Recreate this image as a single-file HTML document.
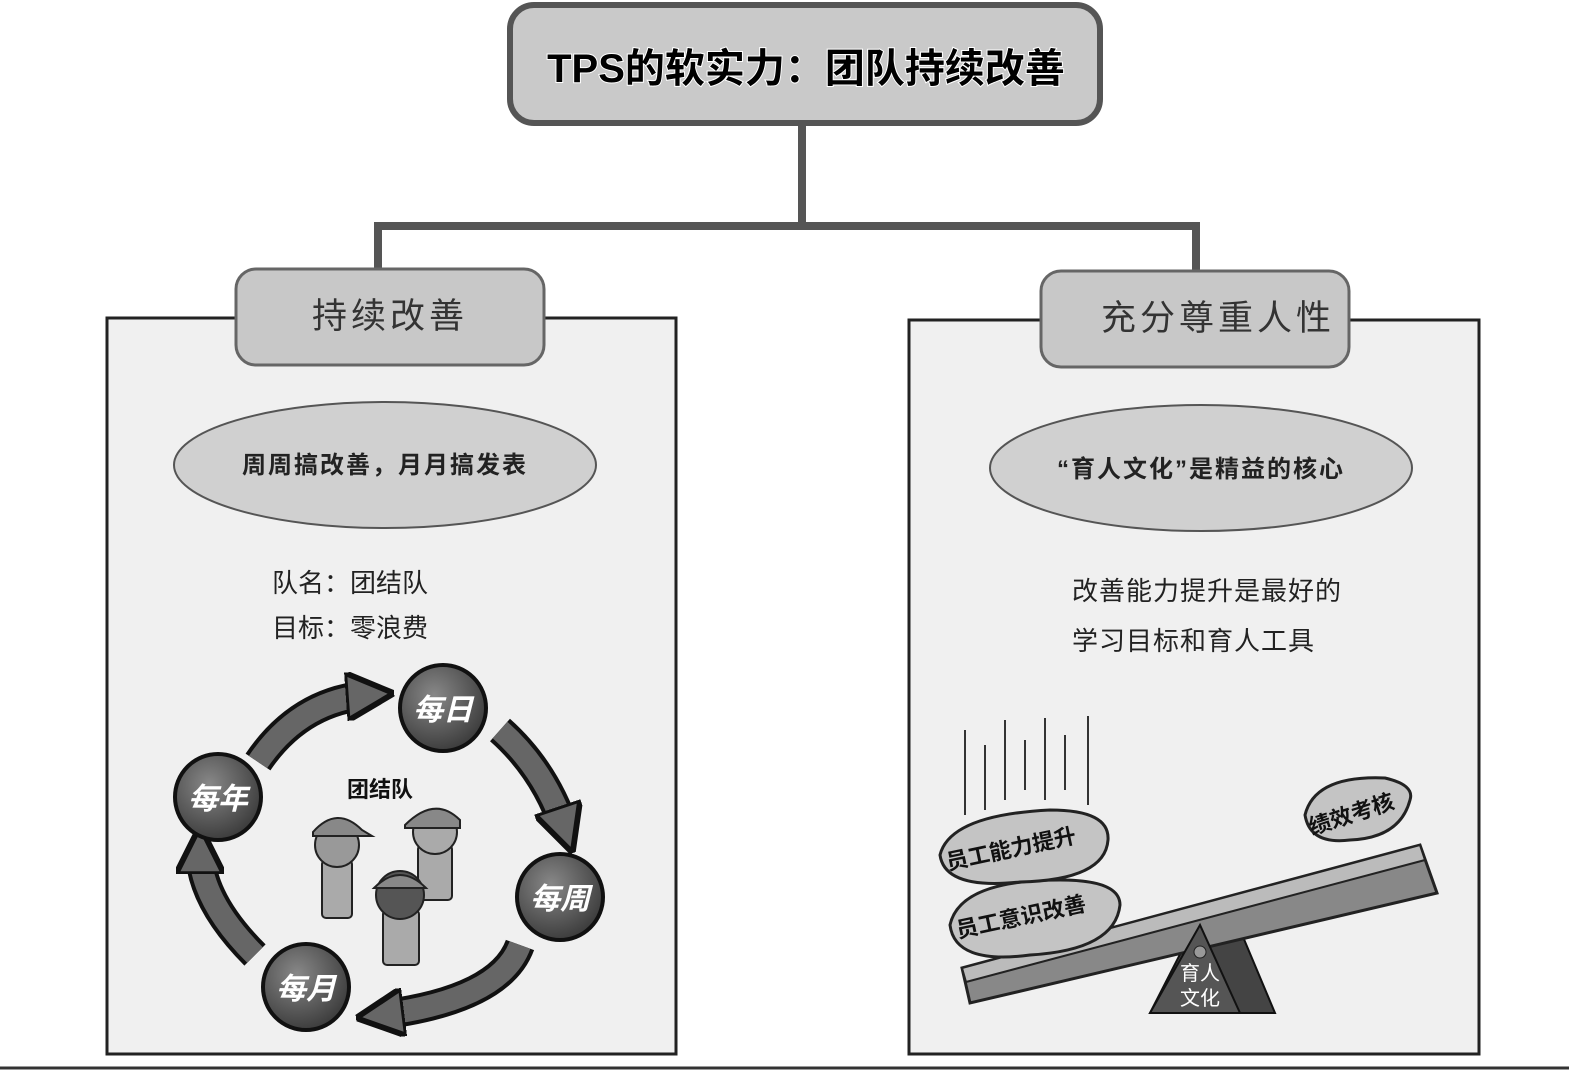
<!DOCTYPE html>
<html><head><meta charset="utf-8"><style>
html,body{margin:0;padding:0;background:#fff;}
svg{display:block;}
text{font-family:"Liberation Sans","Noto Sans CJK SC",sans-serif;}
</style></head><body>
<svg width="1569" height="1073" viewBox="0 0 1569 1073" xmlns="http://www.w3.org/2000/svg">
<defs>
<marker id="ah" viewBox="0 0 10 10" refX="5" refY="5" markerWidth="2.2" markerHeight="2.2" orient="auto">
<path d="M0,0 L10,5 L0,10 z" fill="#666" stroke="#111" stroke-width="1.2"/>
</marker>
<radialGradient id="ball" cx="40%" cy="35%" r="65%"><stop offset="0" stop-color="#888"/><stop offset="1" stop-color="#3e3e3e"/></radialGradient>
</defs>
<rect width="1569" height="1073" fill="#fff"/>
<g stroke="#555" stroke-width="8" fill="none">
<line x1="802" y1="122" x2="802" y2="226"/>
<polyline points="378,270 378,226 1196,226 1196,272"/>
</g>
<rect x="510" y="5" width="590" height="118" rx="24" fill="#c9c9c9" stroke="#555" stroke-width="6"/>
<text x="806" y="82" font-size="40" font-weight="bold" text-anchor="middle" fill="#000" stroke="#fff" stroke-width="2" paint-order="stroke">TPS的软实力：团队持续改善</text>
<rect x="107" y="318" width="569" height="736" fill="#f0f0f0" stroke="#222" stroke-width="3"/>
<rect x="909" y="320" width="570" height="734" fill="#f0f0f0" stroke="#222" stroke-width="3"/>
<line x1="0" y1="1068" x2="1569" y2="1068" stroke="#333" stroke-width="3"/>
<rect x="236" y="269" width="308" height="96" rx="20" fill="#c8c8c8" stroke="#666" stroke-width="3"/>
<text x="390" y="328" font-size="35" text-anchor="middle" fill="#333" letter-spacing="4">持续改善</text>
<rect x="1041" y="271" width="308" height="96" rx="20" fill="#c8c8c8" stroke="#666" stroke-width="3"/>
<text x="1218" y="330" font-size="35" text-anchor="middle" fill="#333" letter-spacing="4">充分尊重人性</text>
<ellipse cx="385" cy="465" rx="211" ry="63" fill="#d0d0d0" stroke="#555" stroke-width="2"/>
<text x="385" y="473" font-size="24" font-weight="600" text-anchor="middle" fill="#222" letter-spacing="2">周周搞改善，月月搞发表</text>
<ellipse cx="1201" cy="468" rx="211" ry="63" fill="#d0d0d0" stroke="#555" stroke-width="2"/>
<text x="1201" y="477" font-size="24" font-weight="600" text-anchor="middle" fill="#222" letter-spacing="2">“育人文化”是精益的核心</text>
<text x="272" y="592" font-size="26" fill="#222">队名：团结队</text>
<text x="272" y="637" font-size="26" fill="#222">目标：零浪费</text>
<text x="1072" y="600" font-size="26" fill="#222" letter-spacing="1">改善能力提升是最好的</text>
<text x="1072" y="650" font-size="26" fill="#222" letter-spacing="1">学习目标和育人工具</text>
<g fill="none" stroke-linecap="butt">
<g stroke="#111" stroke-width="30">
<path d="M258,762 Q300,700 370,695"/>
<path d="M500,730 Q545,770 565,830"/>
<path d="M520,945 Q500,1000 380,1015"/>
<path d="M255,955 Q200,900 200,850"/>
</g>
<g stroke="#666" stroke-width="22" marker-end="url(#ah)">
<path d="M258,762 Q300,700 370,695"/>
<path d="M500,730 Q545,770 565,830"/>
<path d="M520,945 Q500,1000 380,1015"/>
<path d="M255,955 Q200,900 200,850"/>
</g>
</g>
<g stroke="#111" stroke-width="4" fill="url(#ball)">
<circle cx="443" cy="708" r="43"/>
<circle cx="560" cy="897" r="43"/>
<circle cx="306" cy="987" r="43"/>
<circle cx="218" cy="797" r="43"/>
</g>
<g font-size="30" fill="#fff" text-anchor="middle" font-style="italic" font-weight="bold">
<text x="443" y="720">每日</text>
<text x="560" y="909">每周</text>
<text x="306" y="999">每月</text>
<text x="218" y="809">每年</text>
</g>
<text x="380" y="797" font-size="22" font-weight="bold" text-anchor="middle" fill="#111">团结队</text>
<g stroke="#222" stroke-width="2">
<rect x="322" y="860" width="30" height="58" rx="4" fill="#aaa"/>
<circle cx="337" cy="845" r="22" fill="#999"/>
<path d="M313,832 Q337,805 362,830 L372,836 L313,836 z" fill="#888"/>
<rect x="418" y="845" width="34" height="55" rx="4" fill="#aaa"/>
<circle cx="435" cy="832" r="22" fill="#aaa"/>
<path d="M405,825 Q435,795 460,820 L460,828 L405,828 z" fill="#888"/>
<rect x="383" y="910" width="36" height="55" rx="4" fill="#aaa"/>
<circle cx="400" cy="895" r="24" fill="#555"/>
<path d="M374,888 Q400,862 426,888 z" fill="#888"/>
</g>
<polygon points="1195,925 1150,1013 1275,1013 1238,925" fill="#444" stroke="#111" stroke-width="2"/>
<polygon points="962,968 1420,845 1437,893 970,1003" fill="#888" stroke="#222" stroke-width="3"/>
<polygon points="962,968 1420,845 1425,860 966,982" fill="#bbb" stroke="#222" stroke-width="2"/>
<polygon points="1200,925 1150,1013 1240,1013" fill="#555" stroke="#111" stroke-width="2"/>
<circle cx="1200" cy="952" r="6" fill="#999" stroke="#222"/>
<text x="1200" y="980" font-size="20" fill="#fff" text-anchor="middle">育人</text>
<text x="1200" y="1005" font-size="20" fill="#fff" text-anchor="middle">文化</text>
<g stroke="#222" stroke-width="3" fill="#c4c4c4">
<path d="M950,925 Q960,880 1060,880 Q1120,880 1120,905 Q1115,950 1030,955 Q955,965 950,925 z"/>
<path d="M940,855 Q950,815 1050,810 Q1110,810 1108,840 Q1105,880 1020,882 Q945,890 940,855 z"/>
<path d="M1305,815 Q1315,775 1385,778 Q1415,785 1410,800 Q1400,838 1350,840 Q1310,845 1305,815 z"/>
</g>
<g font-size="22" fill="#111" font-weight="bold">
<text x="958" y="938" transform="rotate(-12 958 938)">员工意识改善</text>
<text x="948" y="870" transform="rotate(-12 948 870)">员工能力提升</text>
<text x="1312" y="835" transform="rotate(-18 1312 835)">绩效考核</text>
</g>
<g stroke="#333" stroke-width="2">
<line x1="965" y1="730" x2="965" y2="815"/><line x1="985" y1="745" x2="985" y2="810"/>
<line x1="1005" y1="720" x2="1005" y2="800"/><line x1="1025" y1="740" x2="1025" y2="790"/>
<line x1="1045" y1="718" x2="1045" y2="800"/><line x1="1065" y1="735" x2="1065" y2="790"/>
<line x1="1088" y1="716" x2="1088" y2="805"/>
</g>
</svg>
</body></html>
